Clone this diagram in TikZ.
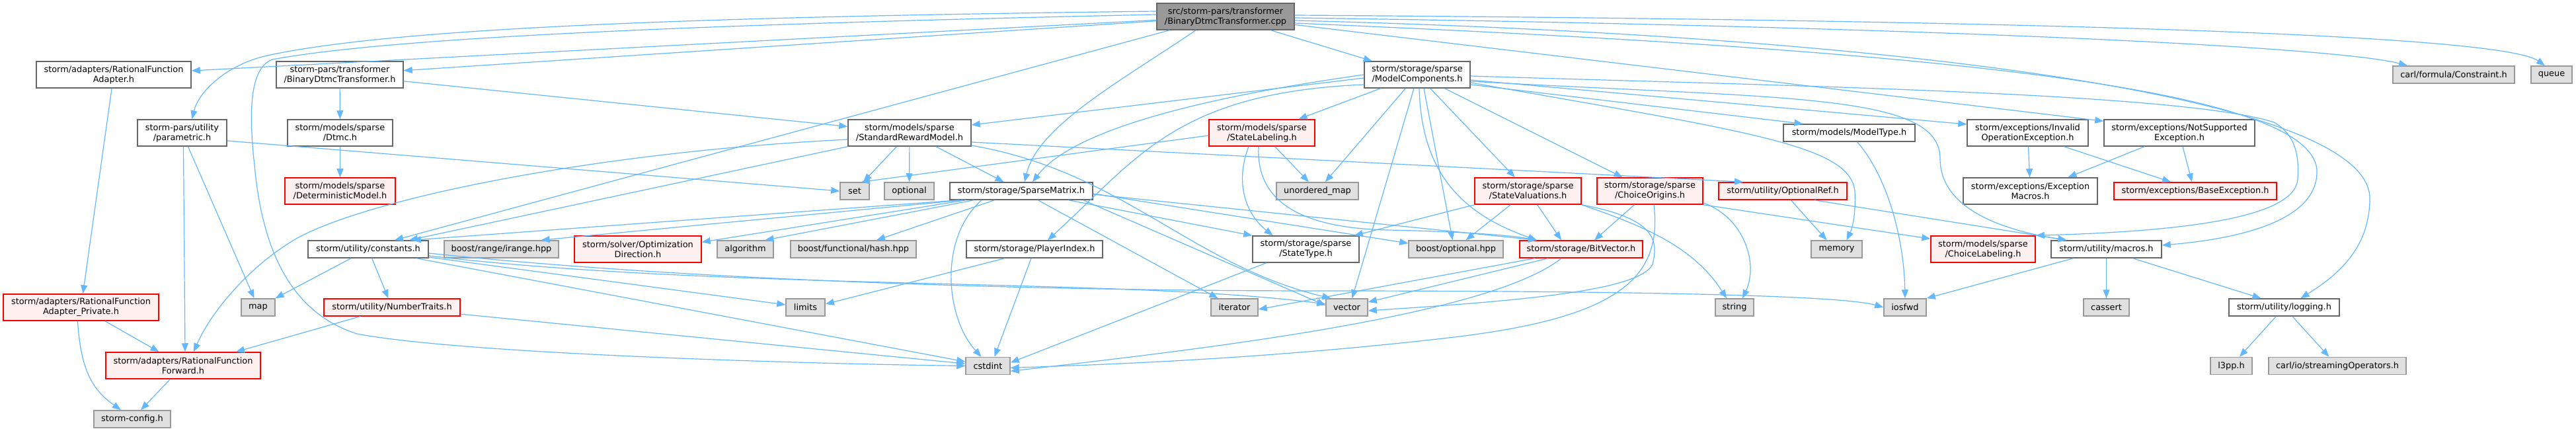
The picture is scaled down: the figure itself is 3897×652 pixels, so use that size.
\documentclass[tikz,border=0pt]{standalone}
\usepackage{fontspec}
\setmainfont{DejaVu Sans}
\usetikzlibrary{arrows.meta}
\definecolor{edgeblue}{HTML}{63B8FF}
\definecolor{boxgray}{HTML}{666666}
\definecolor{sysdraw}{HTML}{999999}
\definecolor{sysfill}{HTML}{E0E0E0}
\definecolor{redfill}{HTML}{FFF0F0}
\definecolor{srcfill}{HTML}{999999}
\newcommand{\dvfont}{\fontsize{12.9}{15}\selectfont}

\begin{document}
\begin{tikzpicture}[
    x=1pt, y=-1pt,
    file/.style={rectangle, draw=boxgray, fill=white, line width=1.5pt, inner sep=0pt, align=center, minimum height=26, font=\dvfont},
    twoline/.style={minimum height=40},
    sysfile/.style={file, draw=sysdraw, fill=sysfill},
    redfile/.style={file, draw=red, fill=redfill},
    srcfile/.style={file, fill=srcfill},
    inc/.style={draw=edgeblue, line width=1.2pt, -{Triangle[length=13pt, width=10pt]}}
]
    \fill[white] (0,0) rectangle (3897,652);
    \useasboundingbox (0,0) rectangle (3897,652);

    % source file
    \node[srcfile, twoline, minimum width=208] (cpp) at (1854,25) {src/storm-pars/transformer\\/BinaryDtmcTransformer.cpp};

    % first level
    \node[file, twoline, minimum width=234] (adapterH) at (172,113) {storm/adapters/RationalFunction\\Adapter.h};
    \node[file, twoline, minimum width=192] (bdtH) at (514,113) {storm-pars/transformer\\/BinaryDtmcTransformer.h};
    \node[file, twoline, minimum width=160] (mc) at (2144,113) {storm/storage/sparse\\/ModelComponents.h};
    \node[sysfile, minimum width=184] (constraint) at (3712,113) {carl/formula/Constraint.h};
    \node[sysfile, minimum width=62] (queue) at (3860,113) {queue};

    % second level
    \node[file, twoline, minimum width=135] (parametric) at (275.5,201) {storm-pars/utility\\/parametric.h};
    \node[file, twoline, minimum width=159] (dtmc) at (514.5,201) {storm/models/sparse\\/Dtmc.h};
    \node[file, twoline, minimum width=186] (srm) at (1376,201) {storm/models/sparse\\/StandardRewardModel.h};
    \node[redfile, twoline, minimum width=160] (stateLabeling) at (1909,201) {storm/models/sparse\\/StateLabeling.h};
    \node[file, minimum width=199] (modelType) at (2797.5,201) {storm/models/ModelType.h};
    \node[file, twoline, minimum width=183] (invalidOp) at (3067.5,201) {storm/exceptions/Invalid\\OperationException.h};
    \node[file, twoline, minimum width=228] (notSupported) at (3297,201) {storm/exceptions/NotSupported\\Exception.h};

    % third level
    \node[redfile, twoline, minimum width=167] (detModel) at (514.5,289) {storm/models/sparse\\/DeterministicModel.h};
    \node[sysfile, minimum width=44] (set) at (1293,289) {set};
    \node[sysfile, minimum width=75] (optional) at (1375.5,289) {optional};
    \node[file, minimum width=216] (sparseMatrix) at (1545,289) {storm/storage/SparseMatrix.h};
    \node[sysfile, minimum width=124] (unorderedMap) at (1993,289) {unordered\_map};
    \node[redfile, twoline, minimum width=161] (stateValuations) at (2311.5,289) {storm/storage/sparse\\/StateValuations.h};
    \node[redfile, twoline, minimum width=160] (choiceOrigins) at (2496,289) {storm/storage/sparse\\/ChoiceOrigins.h};
    \node[redfile, minimum width=194] (optionalRef) at (2697,289) {storm/utility/OptionalRef.h};
    \node[file, twoline, minimum width=203] (exceptionMacros) at (3071.5,289) {storm/exceptions/Exception\\Macros.h};
    \node[redfile, minimum width=246] (baseException) at (3321,289) {storm/exceptions/BaseException.h};

    % fourth level
    \node[file, minimum width=182] (constants) at (557,377) {storm/utility/constants.h};
    \node[sysfile, minimum width=173] (irange) at (758.5,377) {boost/range/irange.hpp};
    \node[redfile, twoline, minimum width=192] (optDir) at (965,377) {storm/solver/Optimization\\Direction.h};
    \node[sysfile, minimum width=85] (algorithm) at (1127.5,377) {algorithm};
    \node[sysfile, minimum width=190] (hash) at (1291,377) {boost/functional/hash.hpp};
    \node[file, minimum width=206] (playerIndex) at (1565,377) {storm/storage/PlayerIndex.h};
    \node[file, twoline, minimum width=161] (stateType) at (1975.5,377) {storm/storage/sparse\\/StateType.h};
    \node[sysfile, minimum width=143] (boostOptional) at (2202.5,377) {boost/optional.hpp};
    \node[redfile, minimum width=186] (bitVector) at (2392,377) {storm/storage/BitVector.h};
    \node[sysfile, minimum width=77] (memory) at (2778.5,377) {memory};
    \node[redfile, twoline, minimum width=158] (choiceLabeling) at (3000,377) {storm/models/sparse\\/ChoiceLabeling.h};
    \node[file, minimum width=167] (macros) at (3186.5,377) {storm/utility/macros.h};

    % fifth level
    \node[redfile, twoline, minimum width=235] (adapterPriv) at (122.5,465) {storm/adapters/RationalFunction\\Adapter\_Private.h};
    \node[sysfile, minimum width=51] (map) at (390.5,465) {map};
    \node[redfile, minimum width=206] (numberTraits) at (593,465) {storm/utility/NumberTraits.h};
    \node[sysfile, minimum width=59] (limits) at (1218.5,465) {limits};
    \node[sysfile, minimum width=71] (iterator) at (1867.5,465) {iterator};
    \node[sysfile, minimum width=63] (vector) at (2037.5,465) {vector};
    \node[sysfile, minimum width=58] (string) at (2624,465) {string};
    \node[sysfile, minimum width=64] (iosfwd) at (2882,465) {iosfwd};
    \node[sysfile, minimum width=69] (cassert) at (3186.5,465) {cassert};
    \node[file, minimum width=167] (logging) at (3455.5,465) {storm/utility/logging.h};

    % bottom levels
    \node[redfile, twoline, minimum width=234] (rfForward) at (277,553) {storm/adapters/RationalFunction\\Forward.h};
    \node[sysfile, minimum width=67] (cstdint) at (1494.5,553.5) {cstdint};
    \node[sysfile, minimum width=63] (l3pp) at (3375.5,553.5) {l3pp.h};
    \node[sysfile, minimum width=208] (streamingOps) at (3536,553.5) {carl/io/streamingOperators.h};
    \node[sysfile, minimum width=116] (config) at (200,634) {storm-config.h};

    % includes of the source file
    \draw[inc] (cpp) -- (adapterH);
    \draw[inc] (cpp) -- (bdtH);
    \draw[inc] ([yshift=8]cpp.west) .. controls (1100,25) and (600,40) .. (400,85) .. controls (340,100) and (300,140) .. ([xshift=15]parametric.north);
    \draw[inc] ([yshift=3]cpp.west) .. controls (1100,36) and (600,55) .. (412,90) .. controls (380,102) and (375,160) .. (385,250) .. controls (395,360) and (430,470) .. (540,505) .. controls (700,535) and (1200,550) .. (cstdint.west);
    \draw[inc] ([xshift=20]cpp.south west) -- ([xshift=40]constants.north);
    \draw[inc] ([xshift=-45]cpp.south) .. controls (1700,120) and (1570,190) .. ([xshift=5]sparseMatrix.north);
    \draw[inc] (cpp) -- (mc);
    \draw[inc] (cpp) -- ([yshift=-3]notSupported.north west);
    \draw[inc] ([yshift=2]cpp.east) .. controls (3000,30) and (3780,50) .. ([xshift=-10]queue.north);
    \draw[inc] ([yshift=-2]cpp.east) .. controls (2900,40) and (3530,70) .. ([xshift=-70]constraint.north);
    \draw[inc] ([yshift=-6]cpp.east) .. controls (2900,55) and (3585,150) .. (3585,300) .. controls (3585,380) and (3530,420) .. ([xshift=25]logging.north);
    \draw[inc] ([yshift=-10]cpp.east) .. controls (2900,75) and (3505,130) .. (3505,260) .. controls (3505,330) and (3400,360) .. ([yshift=6]macros.east);

    % transformer header and adapters
    \draw[inc] (bdtH) -- (dtmc);
    \draw[inc] (bdtH) -- (srm);
    \draw[inc] (dtmc) -- (detModel);
    \draw[inc] (adapterH) -- (adapterPriv);
    \draw[inc] (adapterPriv) -- (rfForward);
    \draw[inc] ([xshift=-5]adapterPriv.south) .. controls (122,560) and (140,590) .. ([xshift=-17]config.north);
    \draw[inc] (rfForward) -- (config);
    \draw[inc] (parametric) -- (map);
    \draw[inc] ([xshift=2]parametric.south) -- ([xshift=3]rfForward.north);
    \draw[inc] ([yshift=-12]parametric.east) -- (set.west);

    % constants
    \draw[inc] (constants) -- (map);
    \draw[inc] (constants) -- (numberTraits);
    \draw[inc] (constants) -- (limits);
    \draw[inc] (constants) -- (cstdint);
    \draw[inc] ([yshift=-6]constants.east) .. controls (1000,420) and (1500,440) .. (2000,440) .. controls (2400,440) and (2780,445) .. (iosfwd.west);
    \draw[inc] ([yshift=-10]constants.east) .. controls (1100,440) and (1700,420) .. ([yshift=5]vector.west);
    \draw[inc] (numberTraits) -- ([xshift=80]rfForward.north);
    \draw[inc] (numberTraits) -- (cstdint);

    % reward model
    \draw[inc] (srm) -- (set);
    \draw[inc] (srm) -- (optional);
    \draw[inc] (srm) -- (sparseMatrix);
    \draw[inc] ([yshift=-10]srm.west) .. controls (900,230) and (560,300) .. (450,360) .. controls (380,400) and (320,470) .. ([xshift=16]rfForward.north);
    \draw[inc] (srm.south west) -- ([xshift=62]constants.north);
    \draw[inc] ([yshift=-14]srm.east) -- ([xshift=-60]optionalRef.north);
    \draw[inc] ([yshift=-19]srm.east) .. controls (1700,260) and (1800,400) .. ([xshift=8]vector.north west);

    % state labeling
    \draw[inc] ([yshift=-4]stateLabeling.west) -- ([xshift=10]set.north);
    \draw[inc] (stateLabeling) -- (unorderedMap);
    \draw[inc] ([xshift=-20]stateLabeling.south) .. controls (1870,270) and (1880,320) .. ([xshift=-50]stateType.north);
    \draw[inc] ([xshift=-5]stateLabeling.south) .. controls (1900,300) and (1960,345) .. (2100,348) .. controls (2200,350) and (2280,355) .. ([xshift=-67]bitVector.north);

    % model components
    \draw[inc] ([yshift=-5]mc.west) -- ([yshift=12]srm.east);
    \draw[inc] (mc) -- (stateLabeling);
    \draw[inc] (mc.west) .. controls (1800,150) and (1620,200) .. ([xshift=17]sparseMatrix.north);
    \draw[inc] (mc) -- (unorderedMap);
    \draw[inc] ([yshift=-15]mc.west) .. controls (1780,140) and (1720,240) .. ([xshift=20]playerIndex.north);
    \draw[inc] (mc) -- (stateValuations);
    \draw[inc] (mc) -- (choiceOrigins);
    \draw[inc] ([yshift=-15]mc.east) -- ([xshift=-70]modelType.north);
    \draw[inc] ([yshift=-8]mc.east) -- ([yshift=13]invalidOp.west);
    \draw[inc] ([xshift=10]mc.south) -- ([xshift=-5]boostOptional.north);
    \draw[inc] ([xshift=3]mc.south) .. controls (2150,250) and (2200,320) .. ([xshift=-67]bitVector.north);
    \draw[inc] ([xshift=-5]mc.south) -- ([xshift=8]vector.north);
    \draw[inc] ([yshift=-12]mc.east) .. controls (2650,200) and (2800,220) .. (2806,290) .. controls (2808,330) and (2800,350) .. ([xshift=15]memory.north);
    \draw[inc] ([yshift=-2]mc.east) .. controls (2700,130) and (3300,140) .. (3440,185) .. controls (3475,205) and (3478,240) .. (3476,270) .. controls (3474,330) and (3300,350) .. (choiceLabeling.north east);
    \draw[inc] ([yshift=-10]mc.east) .. controls (2700,150) and (2935,140) .. (2935,240) .. controls (2935,320) and (3040,350) .. ([xshift=-60]macros.north);

    % sparse matrix
    \draw[inc] ([xshift=15]sparseMatrix.south west) -- ([xshift=-25]constants.north east);
    \draw[inc] ([xshift=20]sparseMatrix.south west) -- ([xshift=60]irange.north);
    \draw[inc] ([xshift=25]sparseMatrix.south west) -- ([yshift=-10]optDir.north east);
    \draw[inc] (sparseMatrix) -- ([xshift=30]algorithm.north);
    \draw[inc] (sparseMatrix) -- ([xshift=35]hash.north);
    \draw[inc] ([xshift=-60]sparseMatrix.south) .. controls (1420,360) and (1430,480) .. ([xshift=-10]cstdint.north);
    \draw[inc] (sparseMatrix) -- ([xshift=-25]iterator.north);
    \draw[inc] ([xshift=-15]sparseMatrix.south east) -- ([yshift=3]vector.west);
    \draw[inc] (sparseMatrix) -- (stateType.north west);
    \draw[inc] ([yshift=-5]sparseMatrix.east) -- ([xshift=-67]bitVector.north);
    \draw[inc] ([yshift=-4]sparseMatrix.east) -- ([yshift=9]boostOptional.west);

    % state valuations and choice origins
    \draw[inc] (stateValuations) -- ([xshift=-8]stateType.north east);
    \draw[inc] (stateValuations) -- ([xshift=15]boostOptional.north);
    \draw[inc] (stateValuations) -- ([xshift=-30]bitVector.north);
    \draw[inc] (stateValuations.south east) .. controls (2480,340) and (2560,370) .. ([xshift=-12]string.north);
    \draw[inc] (stateValuations.south east) .. controls (2500,330) and (2510,360) .. (2500,400) .. controls (2480,440) and (2300,455) .. ([yshift=-5]vector.east);
    \draw[inc] (choiceOrigins) -- ([xshift=20]bitVector.north);
    \draw[inc] ([yshift=3]choiceOrigins.south east) .. controls (2640,330) and (2660,400) .. ([xshift=12]string.north);
    \draw[inc] (choiceOrigins.south east) -- ([yshift=-5]choiceLabeling.north west);
    \draw[inc] ([xshift=6]choiceOrigins.south) .. controls (2515,420) and (2450,480) .. (2200,510) .. controls (1900,545) and (1650,552) .. ([yshift=-3]cstdint.east);

    % bit vector and small headers
    \draw[inc] ([xshift=-70]bitVector.south) -- ([yshift=-3]iterator.east);
    \draw[inc] ([xshift=-50]bitVector.south) -- ([yshift=8]vector.east);
    \draw[inc] ([xshift=-30]bitVector.south) .. controls (2250,480) and (1800,530) .. ([yshift=-8]cstdint.east);
    \draw[inc] (optionalRef) -- ([xshift=-15]memory.north);
    \draw[inc] ([xshift=-50]optionalRef.south east) -- ([xshift=-60]macros.north);
    \draw[inc] ([xshift=12]modelType.south) .. controls (2850,260) and (2880,350) .. (iosfwd.north);
    \draw[inc] ([xshift=-45]playerIndex.south) -- ([yshift=5]limits.east);
    \draw[inc] ([xshift=-5]playerIndex.south) -- ([xshift=10]cstdint.north);
    \draw[inc] ([xshift=-60]stateType.south) -- ([yshift=5]cstdint.east);

    % macros, logging, exceptions
    \draw[inc] ([xshift=-50]macros.south) -- (iosfwd.north east);
    \draw[inc] (macros) -- (cassert);
    \draw[inc] ([xshift=40]macros.south) -- ([xshift=-35]logging.north);
    \draw[inc] (logging) -- (l3pp);
    \draw[inc] (logging) -- (streamingOps);
    \draw[inc] (invalidOp) -- (exceptionMacros);
    \draw[inc] ([xshift=55]invalidOp.south) -- ([xshift=-37]baseException.north);
    \draw[inc] ([xshift=-53]notSupported.south) -- ([xshift=57]exceptionMacros.north);
    \draw[inc] ([xshift=5]notSupported.south) -- ([xshift=-5]baseException.north);

\end{tikzpicture}
\end{document}
